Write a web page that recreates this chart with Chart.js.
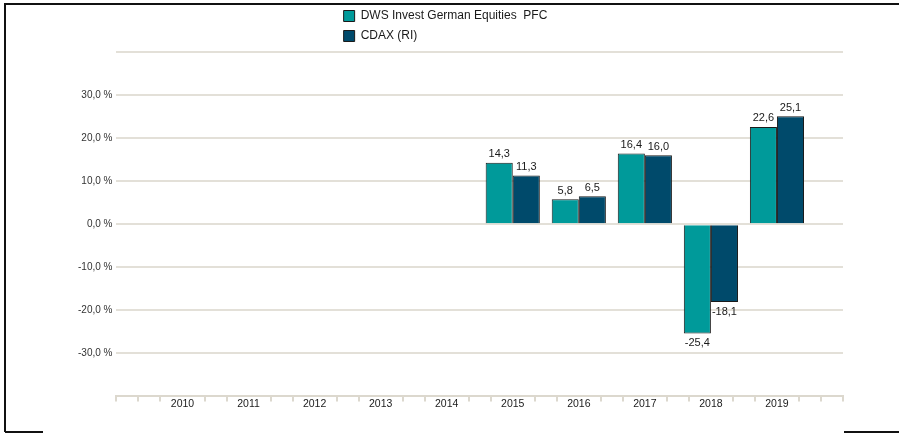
<!DOCTYPE html>
<html>
<head>
<meta charset="utf-8">
<script src="https://cdn.jsdelivr.net/npm/chart.js@4.4.1/dist/chart.umd.min.js"></script>
<style>
html,body{margin:0;padding:0;background:#fff;}
#wrap{position:relative;width:899px;height:433px;}
</style>
</head>
<body>
<div id="wrap"><canvas id="c" width="899" height="433"></canvas></div>
<script>
// ---- data ----
const years = ['2010','2011','2012','2013','2014','2015','2016','2017','2018','2019'];
const dwsValues  = [null, null, null, null, null, 14.3, 5.8, 16.4, -25.4, 22.6];
const cdaxValues = [null, null, null, null, null, 11.3, 6.5, 16.0, -18.1, 25.1];
const seriesNames = ['DWS Invest German Equities  PFC', 'CDAX (RI)'];
const yTickValues = [-30, -20, -10, 0, 10, 20, 30];

// category axis padded with an empty slot on each side
const labels = [''].concat(years, ['']);
const pad = arr => [null].concat(arr, [null]);

const GRID = '#e3e0d8';
const AXIS = '#dcd8ce';
const FONT = '"Liberation Sans", Arial, sans-serif';
Chart.defaults.font.family = FONT;

const fmt = v => v.toFixed(1).replace('.', ',');

// value labels on bars
const valueLabels = {
  id: 'valueLabels',
  afterDatasetsDraw(chart) {
    const ctx = chart.ctx;
    ctx.save();
    ctx.font = '11px ' + FONT;
    ctx.fillStyle = '#1a1a1a';
    ctx.textAlign = 'center';
    chart.data.datasets.forEach((ds, di) => {
      const meta = chart.getDatasetMeta(di);
      meta.data.forEach((bar, i) => {
        const v = ds.data[i];
        if (v === null || v === undefined) return;
        if (v >= 0) { ctx.textBaseline = 'bottom'; ctx.fillText(fmt(v), bar.x, bar.y - 3); }
        else { ctx.textBaseline = 'top'; ctx.fillText(fmt(v), bar.x, bar.y + 4); }
      });
    });
    ctx.restore();
  }
};

// minor ticks under the x axis (three per category, none under a year label)
const xMinorTicks = {
  id: 'xMinorTicks',
  afterDraw(chart) {
    const sc = chart.scales.x;
    const ctx = chart.ctx;
    ctx.save();
    ctx.strokeStyle = AXIS;
    ctx.lineWidth = 2;
    const n = sc.ticks.length;
    const y0 = sc.top;
    for (let i = 0; i < n; i++) {
      const x0 = sc.getPixelForTick(i);
      const x1 = i < n - 1 ? sc.getPixelForTick(i + 1) : x0;
      const parts = i < n - 1 ? 3 : 1;
      for (let k = 0; k < parts; k++) {
        if (k === 0 && labels[i] !== '') continue;
        const x = Math.round(x0 + (x1 - x0) * k / 3);
        ctx.beginPath();
        ctx.moveTo(x, y0);
        ctx.lineTo(x, y0 + 5);
        ctx.stroke();
      }
    }
    ctx.restore();
  }
};

// frame around the picture
const frame = {
  id: 'frame',
  afterDraw(chart) {
    const ctx = chart.ctx;
    const W = chart.width, H = chart.height;
    ctx.save();
    ctx.strokeStyle = '#111';
    ctx.lineWidth = 2;
    ctx.beginPath();
    ctx.moveTo(5, H - 1); ctx.lineTo(5, 4); ctx.lineTo(W, 4);
    ctx.moveTo(5, H - 1); ctx.lineTo(43, H - 1);
    ctx.moveTo(844, H - 1); ctx.lineTo(W, H - 1);
    ctx.stroke();
    ctx.restore();
  }
};

// stack legend items vertically, left-aligned, near the centre
const stackLegend = {
  id: 'stackLegend',
  afterInit(chart) {
    const lg = chart.legend;
    if (!lg) return;
    const origFit = lg._fitRows;
    lg._fitRows = function (...args) {
      const mw = this.maxWidth;
      this.maxWidth = 1;
      const h = origFit.apply(this, args);
      this.maxWidth = mw;
      return h;
    };
    const origDraw = lg.draw;
    lg.draw = function () {
      const L = this.left, R = this.right;
      const p = this.options.labels.padding;
      const w = Math.max(...this.legendHitBoxes.map(h => h.width)) + 2 * p;
      const cx = (L + R) / 2 - 13;
      this.left = cx - w / 2;
      this.right = cx + w / 2;
      origDraw.call(this);
      this.left = L; this.right = R;
    };
  }
};

new Chart(document.getElementById('c'), {
  type: 'bar',
  data: {
    labels: labels,
    datasets: [
      { label: seriesNames[0], data: pad(dwsValues), backgroundColor: '#009a9a', borderColor: '#1a1a1a', borderWidth: 1, categoryPercentage: 0.82, barPercentage: 1 },
      { label: seriesNames[1], data: pad(cdaxValues), backgroundColor: '#004a6b', borderColor: '#1a1a1a', borderWidth: 1, categoryPercentage: 0.82, barPercentage: 1 }
    ]
  },
  options: {
    responsive: false,
    animation: false,
    layout: { padding: { top: 2, left: 74, right: 56, bottom: 22 } },
    plugins: {
      legend: {
        position: 'top',
        align: 'start',
        labels: { boxWidth: 11, boxHeight: 11, padding: 8, color: '#1a1a1a', font: { size: 12, family: FONT } }
      },
      tooltip: { enabled: false }
    },
    scales: {
      x: {
        offset: false,
        grid: { display: false, drawOnChartArea: false, drawTicks: false },
        border: { display: true, color: AXIS, width: 2 },
        ticks: { padding: 1, color: '#1a1a1a', font: { size: 10.5 }, autoSkip: false, maxRotation: 0 }
      },
      y: {
        min: -40, max: 40,
        grid: { color: GRID, lineWidth: 2, drawTicks: false },
        border: { display: false },
        ticks: {
          stepSize: 10, padding: 4, color: '#333', font: { size: 10 },
          callback: v => yTickValues.includes(v) ? fmt(v) + ' %' : ''
        }
      }
    }
  },
  plugins: [stackLegend, valueLabels, xMinorTicks, frame]
});
</script>
</body>
</html>
